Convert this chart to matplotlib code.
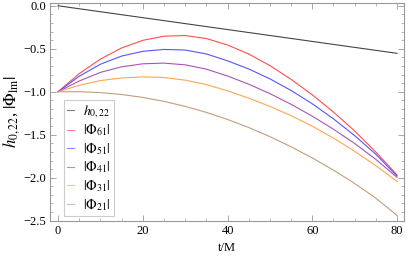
import matplotlib
matplotlib.use("Agg")
import matplotlib.pyplot as plt
from matplotlib.ticker import MultipleLocator

plt.rcParams['font.family'] = ['Liberation Serif', 'DejaVu Serif']
plt.rcParams['mathtext.fontset'] = 'stix'

# values
t = [0, 5, 10, 15, 20, 25, 30, 35, 40, 45, 50, 55, 60, 65, 70, 75, 80]
t_h = [0, 80]
h022 = [0.0, -0.553]
phi61 = [-1.0, -0.79, -0.62, -0.491, -0.402, -0.354, -0.346, -0.381, -0.456,
         -0.561, -0.696, -0.856, -1.036, -1.236, -1.456, -1.701, -1.968]
phi51 = [-1.0, -0.82, -0.68, -0.585, -0.53, -0.508, -0.515, -0.56, -0.64,
         -0.735, -0.85, -0.985, -1.14, -1.315, -1.51, -1.727, -1.98]
phi41 = [-1.0, -0.875, -0.775, -0.71, -0.675, -0.667, -0.687, -0.737, -0.817,
         -0.912, -1.022, -1.146, -1.284, -1.436, -1.602, -1.787, -1.995]
phi31 = [-1.0, -0.925, -0.87, -0.84, -0.827, -0.835, -0.865, -0.917, -0.99,
         -1.075, -1.17, -1.278, -1.401, -1.539, -1.692, -1.86, -2.043]
phi21 = [-1.0, -1.0, -1.01, -1.032, -1.066, -1.112, -1.17, -1.24, -1.322,
         -1.416, -1.522, -1.64, -1.77, -1.912, -2.066, -2.238, -2.438]

fig = plt.figure(figsize=(4.15, 2.58), dpi=100)
ax = fig.add_axes([0.1205, 0.1446, 0.853, 0.843])

lw = 0.8
ax.plot(t_h, h022, color='#444444', lw=lw, label=r'$h_{0,22}$')
ax.plot(t, phi61, color='#ff4d4d', lw=lw, label=r'$|\Phi_{61}|$')
ax.plot(t, phi51, color='#5555ff', lw=lw, label=r'$|\Phi_{51}|$')
ax.plot(t, phi41, color='#a755b5', lw=lw, label=r'$|\Phi_{41}|$')
ax.plot(t, phi31, color='#ffa64d', lw=lw, label=r'$|\Phi_{31}|$')
ax.plot(t, phi21, color='#c29e7a', lw=lw, label=r'$|\Phi_{21}|$')

ax.set_xlim(-1.89, 81.65)
ax.set_ylim(-2.5, 0.03)
ax.xaxis.set_major_locator(MultipleLocator(20))
ax.xaxis.set_minor_locator(MultipleLocator(5))
ax.yaxis.set_major_locator(MultipleLocator(0.5))
ax.yaxis.set_minor_locator(MultipleLocator(0.1))
ax.yaxis.set_major_formatter(lambda v, p: ('%.1f' % v).replace('-', '\u2212'))

for s in ax.spines.values():
    s.set_color('#999999')
    s.set_linewidth(0.8)
ax.tick_params(which='both', direction='in', top=True, right=True,
               color='#999999', labelsize=9, pad=3)
ax.tick_params(which='major', length=4, width=0.6)
ax.tick_params(which='minor', length=2, width=0.5)

ax.set_xlabel('t/M', fontsize=9, labelpad=4)
ax.set_ylabel(r'$h_{0,22}$, $|\Phi_{\rm lm}|$', fontsize=12, labelpad=1)

leg = ax.legend(loc='lower left', bbox_to_anchor=(0.0395, 0.0216),
                borderaxespad=0, fontsize=10, handlelength=0.5,
                handletextpad=0.6, borderpad=0.25, labelspacing=0.2,
                fancybox=False, framealpha=1)
leg.get_frame().set_edgecolor('#cccccc')
leg.get_frame().set_linewidth(0.8)
for line in leg.get_lines():
    line.set_alpha(0.7)

fig.savefig('out.png', dpi=100)
